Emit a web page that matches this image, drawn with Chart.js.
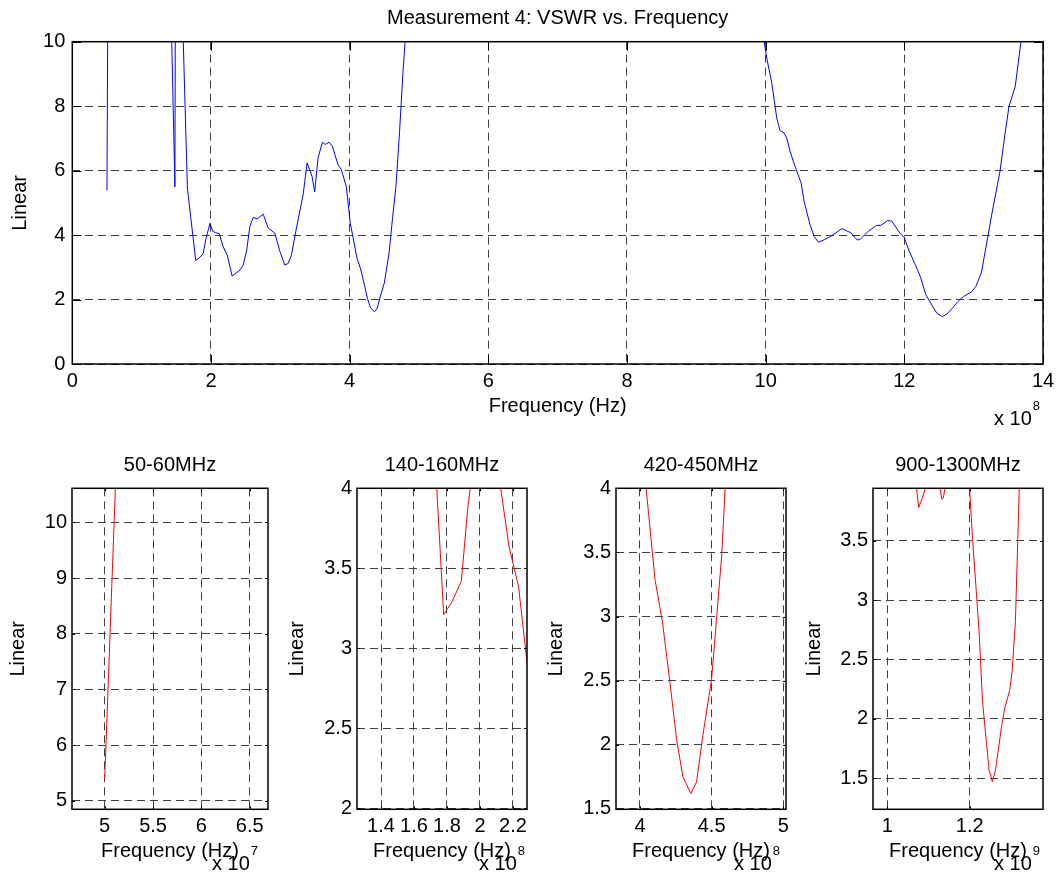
<!DOCTYPE html>
<html>
<head>
<meta charset="utf-8">
<title>VSWR vs. Frequency</title>
<script src="https://cdn.jsdelivr.net/npm/chart.js@4.4.1/dist/chart.umd.min.js"></script>
<style>
  body { margin: 0; background: #fff; }
  #fig { position: relative; width: 1062px; height: 880px; overflow: hidden; }
  #fig canvas { position: absolute; }
</style>
</head>
<body>
<div id="fig">
  <canvas id="main"></canvas>
  <canvas id="p1"></canvas>
  <canvas id="p2"></canvas>
  <canvas id="p3"></canvas>
  <canvas id="p4"></canvas>
</div>
<script>
// measured sweep (MHz) and VSWR, values far above 10 are off scale
const freqMHz = [50, 55, 143, 148, 153, 159, 166, 178, 183, 188.7, 192.7, 198.6, 202.4, 206, 212, 217.6,
  223.4, 230.5, 241.7, 246.5, 251.3, 256.1, 260.9, 266.7, 275.3, 282.5, 292.1, 299.3, 306.5, 311.3, 316.1,
  323.3, 332.9, 338.6, 345.8, 349.6, 354.4, 360.7, 365, 370.3, 375.1, 383.2, 388, 395.2, 401, 405, 410.5,
  415.8, 421, 425.6, 430, 435.5, 439.5, 444, 450, 457, 462, 467, 472, 477, 482, 488, 600, 800, 992, 1001.6,
  1008.8, 1016, 1020.8, 1026.5, 1030.4, 1035.2, 1042.4, 1051.1, 1055.4, 1064, 1070, 1076, 1085, 1094, 1110,
  1123, 1132, 1136, 1148, 1160, 1166, 1176, 1182, 1194, 1200, 1207, 1215, 1223, 1231, 1240, 1247, 1255,
  1262, 1270, 1277, 1285, 1297, 1303, 1311, 1319, 1326, 1338, 1345, 1351, 1360, 1368, 1376];
const vswr = [5.38, 29, 10.4, 5.5, 50, 10.8, 5.46, 3.21, 3.29, 3.42, 3.885, 4.37, 4.12, 4.08, 4.04, 3.635,
  3.385, 2.73, 2.91, 3.07, 3.50, 4.27, 4.55, 4.50, 4.65, 4.22, 4.06, 3.50, 3.07, 3.12, 3.39,
  4.22, 5.25, 6.24, 5.82, 5.34, 6.39, 6.88, 6.81, 6.88, 6.76, 6.18, 6.03, 5.5, 4.35, 3.92, 3.29,
  2.95, 2.48, 2.04, 1.75, 1.62, 1.71, 2.08, 2.51, 3.47, 4.55, 5.56, 7.22, 9.08, 10.6, 14, 22, 20, 10.8, 9.49,
  8.72, 7.63, 7.24, 7.17, 7.01, 6.60, 6.13, 5.62, 5.05, 4.32, 3.96, 3.78, 3.86, 3.96, 4.20,
  4.07, 3.85, 3.86, 4.12, 4.30, 4.30, 4.45, 4.43, 4.05, 3.92, 3.50, 3.12, 2.72, 2.15, 1.82, 1.57, 1.47,
  1.56, 1.75, 1.93, 2.09, 2.24, 2.40, 2.82, 3.78, 4.63, 5.98, 7.11, 8.0, 8.62, 9.96, 11.5];

// tick values (mantissa, scaled by the axis exponent)
const mainXTicks = [0, 2, 4, 6, 8, 10, 12, 14];
const mainYTicks = [0, 2, 4, 6, 8, 10];
const panelTitles = ['50-60MHz', '140-160MHz', '420-450MHz', '900-1300MHz'];
const panelXTicks = [[5, 5.5, 6, 6.5], [1.4, 1.6, 1.8, 2, 2.2], [4, 4.5, 5], [1, 1.2]];
const panelYTicks = [[5, 6, 7, 8, 9, 10], [2, 2.5, 3, 3.5, 4], [1.5, 2, 2.5, 3, 3.5, 4], [1.5, 2, 2.5, 3, 3.5]];
const panelExp = [7, 8, 8, 9];
const panelXRange = [[4.662, 6.689], [1.2545, 2.285], [3.833, 5.019], [0.965, 1.378]];
const panelYRange = [[4.85, 10.61], [1.994, 4], [1.497, 4], [1.239, 3.941]];

Chart.defaults.font.family = "'Liberation Sans', Arial, sans-serif";
Chart.defaults.font.size = 20;
Chart.defaults.color = '#000';

const FONT = "'Liberation Sans', Arial, sans-serif";
const gridColor = '#404040';

const fmt = v => String(parseFloat(v.toFixed(4)));

// box around the axes, inward ticks on all sides and the "x 10^n" note
const matlabFrame = {
  id: 'matlabFrame',
  afterDatasetsDraw(chart, args, opts) {
    const { ctx, chartArea: a, scales: { x, y } } = chart;
    ctx.save();
    ctx.strokeStyle = '#000';
    ctx.lineWidth = 1;
    ctx.beginPath();
    x.ticks.forEach(t => {
      const px = Math.round(x.getPixelForValue(t.value)) + 0.5;
      ctx.moveTo(px, a.bottom); ctx.lineTo(px, a.bottom - opts.tick);
      ctx.moveTo(px, a.top); ctx.lineTo(px, a.top + opts.tick);
    });
    y.ticks.forEach(t => {
      const py = Math.round(y.getPixelForValue(t.value)) + 0.5;
      ctx.moveTo(a.left, py); ctx.lineTo(a.left + opts.tick, py);
      ctx.moveTo(a.right, py); ctx.lineTo(a.right - opts.tick, py);
    });
    ctx.stroke();
    ctx.lineWidth = 1.5;
    ctx.strokeRect(a.left, a.top, a.right - a.left, a.bottom - a.top);

    const xr = a.right - opts.expRight;
    ctx.fillStyle = '#000';
    ctx.textAlign = 'right';
    ctx.textBaseline = 'alphabetic';
    ctx.font = '13px ' + FONT;
    const e = String(opts.exp);
    ctx.fillText(e, xr, a.bottom + 46);
    const w = ctx.measureText(e).width;
    ctx.font = '20px ' + FONT;
    ctx.fillText('x 10', xr - w - 1, a.bottom + 61);
    ctx.restore();
  }
};

function makeChart(id, s) {
  const el = document.getElementById(id);
  el.width = s.w;
  el.height = s.h;
  el.style.left = s.left + 'px';
  el.style.top = s.top + 'px';
  const pow = Math.pow(10, s.exp);
  const points = freqMHz.map((f, i) => ({ x: f * 1e6, y: vswr[i] }));

  return new Chart(el, {
    type: 'line',
    data: {
      datasets: [{
        data: points,
        borderColor: s.color,
        borderWidth: 1,
        pointRadius: 0,
        tension: 0,
        fill: false
      }]
    },
    options: {
      responsive: false,
      animation: false,
      events: [],
      layout: { padding: { left: 0, right: s.padRight, top: 0, bottom: 0 } },
      plugins: {
        legend: { display: false },
        tooltip: { enabled: false },
        title: {
          display: true,
          text: s.title,
          fullSize: false,
          color: '#000',
          font: { size: 20, weight: 'normal' },
          padding: { top: s.titleTop, bottom: s.titleBottom }
        },
        matlabFrame: { exp: s.exp, expRight: s.expRight, tick: s.tick }
      },
      scales: {
        x: {
          type: 'linear',
          min: s.xRange[0] * pow,
          max: s.xRange[1] * pow,
          afterBuildTicks: sc => { sc.ticks = s.xTicks.map(v => ({ value: v * pow })); },
          afterFit: sc => { sc.height = s.xAxisH; },
          ticks: { padding: 5, maxRotation: 0, autoSkip: false, callback: v => fmt(v / pow) },
          grid: { color: gridColor, lineWidth: 1, drawTicks: false },
          border: { display: false, dash: [8, 5] },
          title: { display: true, text: 'Frequency (Hz)', padding: { top: 0, bottom: s.xTitleBottom } }
        },
        y: {
          type: 'linear',
          min: s.yRange[0],
          max: s.yRange[1],
          afterBuildTicks: sc => { sc.ticks = s.yTicks.map(v => ({ value: v })); },
          afterFit: sc => { sc.width = s.yAxisW; },
          ticks: { padding: s.yTickPad, autoSkip: false, callback: v => fmt(v) },
          grid: { color: gridColor, lineWidth: 1, drawTicks: false },
          border: { display: false, dash: [8, 5] },
          title: { display: true, text: 'Linear', padding: { top: s.yTitlePad, bottom: 0 } }
        }
      }
    },
    plugins: [matlabFrame]
  });
}

// full sweep
makeChart('main', {
  left: 0, top: 0, w: 1062, h: 440, padRight: 19,
  title: 'Measurement 4: VSWR vs. Frequency', titleTop: 6, titleBottom: 11.7,
  xRange: [0, 14], yRange: [0, 10], xTicks: mainXTicks, yTicks: mainYTicks, exp: 8,
  xAxisH: 76, yAxisW: 72.3, xTitleBottom: 21.6, yTitlePad: 8, yTickPad: 7,
  color: '#0000ff', tick: 9, expRight: 3
});

// band close-ups
const panelLeft = [72.3, 356.7, 616, 873.3];
const panelRight = [268.3, 526.7, 786, 1043.3];
const panelYTitlePad = [6, 0, 0.7, 1.7];
const panelExpRight = [10, 2, 6, 3];
panelTitles.forEach((t, i) => {
  makeChart('p' + (i + 1), {
    left: panelLeft[i] - 72, top: 430, w: 72 + (panelRight[i] - panelLeft[i]) + 20, h: 450, padRight: 20,
    title: t, titleTop: 23, titleBottom: 11.3,
    xRange: panelXRange[i], yRange: panelYRange[i], xTicks: panelXTicks[i], yTicks: panelYTicks[i],
    exp: panelExp[i],
    xAxisH: 70.7, yAxisW: 72, xTitleBottom: 16.5, yTitlePad: panelYTitlePad[i], yTickPad: 5,
    color: '#ff0000', tick: 3, expRight: panelExpRight[i]
  });
});
</script>
</body>
</html>
